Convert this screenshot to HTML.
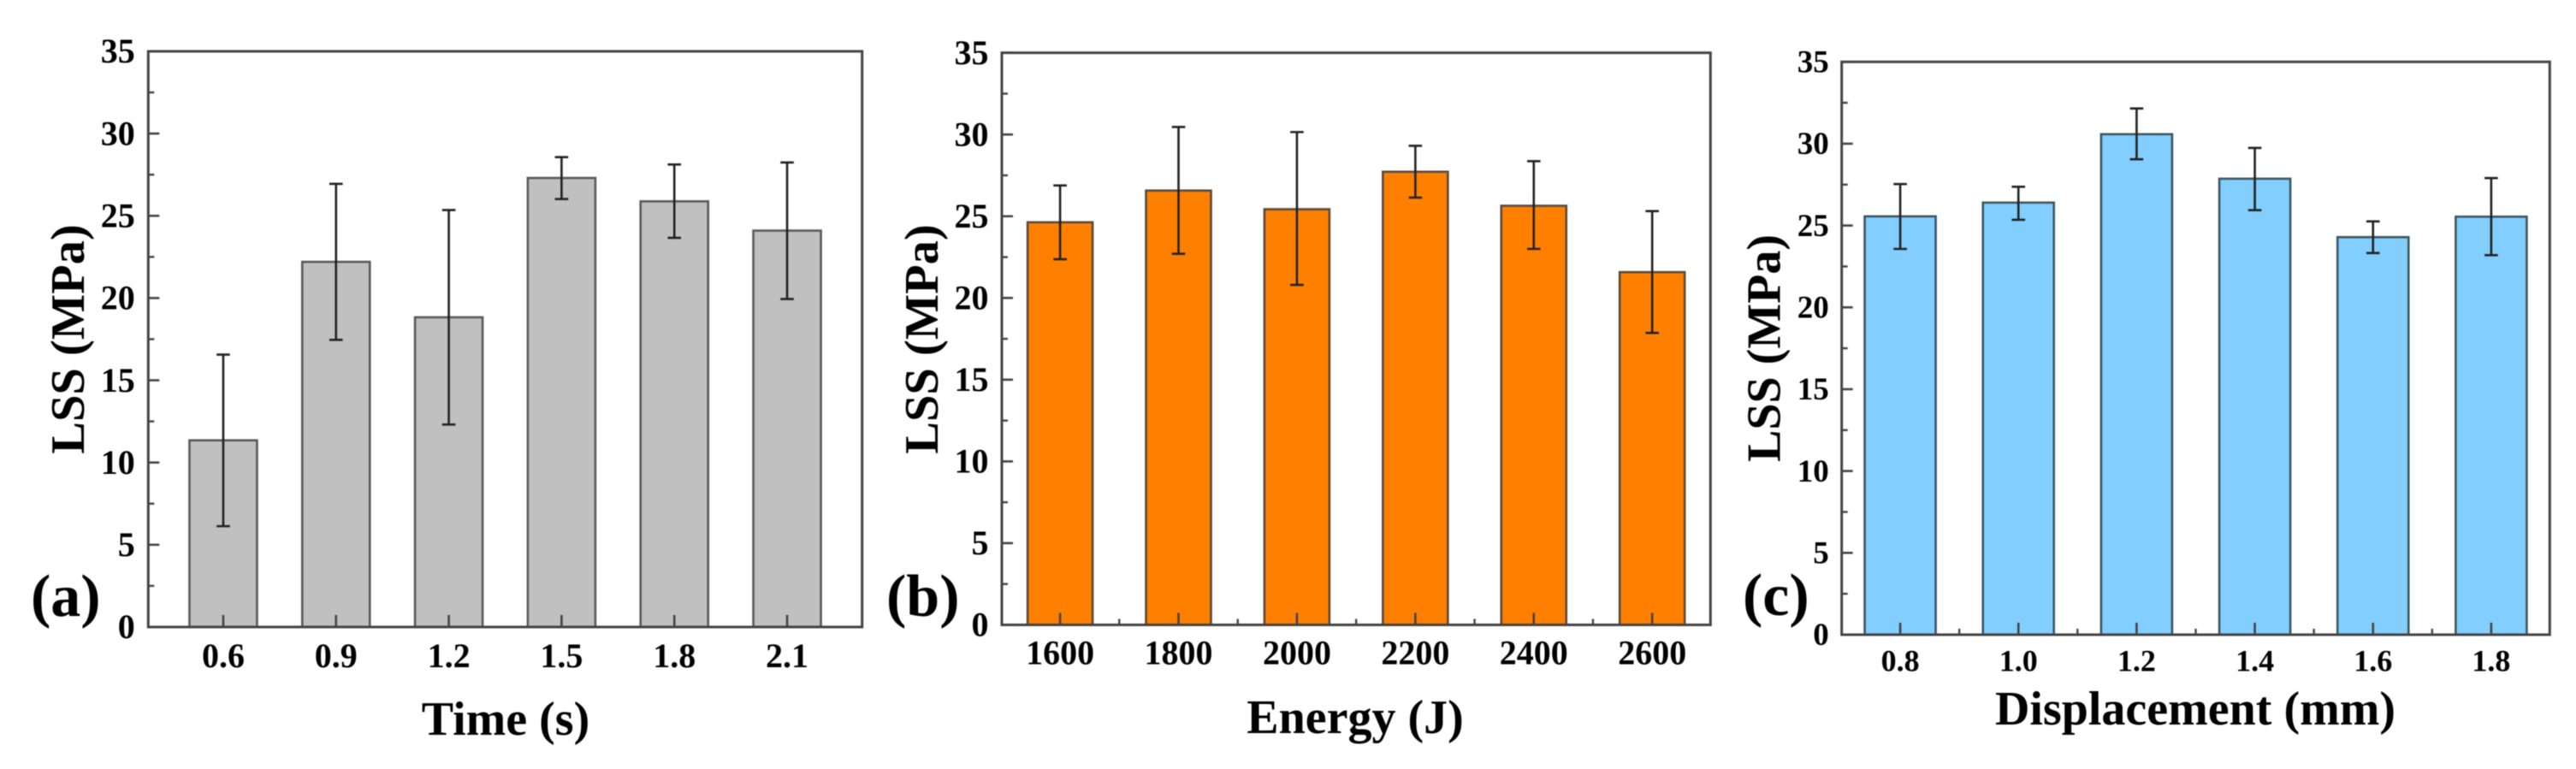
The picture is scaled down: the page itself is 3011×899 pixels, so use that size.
<!DOCTYPE html>
<html lang="en">
<head>
<meta charset="utf-8">
<title>LSS bar charts</title>
<style>
  html, body { margin: 0; padding: 0; background: #fff; }
  #figure { display: block; width: 3011px; height: 899px; filter: blur(0.55px); }
  text { font-family: "Liberation Serif", serif; font-weight: bold; fill: #000; }
</style>
</head>
<body>
<svg id="figure" xmlns="http://www.w3.org/2000/svg" width="3011" height="899" viewBox="0 0 3011 899">
  <rect x="0" y="0" width="3011" height="899" fill="#fff"/>

  <g id="panel-a"></g>
  <g id="panel-b"></g>
  <g id="panel-c"></g>

  <text font-size="56.5" text-anchor="middle" transform="translate(98 396.5) rotate(-90)">LSS (MPa)</text>
  <text font-size="56" text-anchor="middle" x="591" y="859">Time (s)</text>
  <text font-size="70" x="36" y="720">(a)</text>

  <text font-size="56.5" text-anchor="middle" transform="translate(1096 396.5) rotate(-90)">LSS (MPa)</text>
  <text font-size="56" text-anchor="middle" x="1584" y="857">Energy (J)</text>
  <text font-size="70" x="1036" y="720">(b)</text>

  <text font-size="56" text-anchor="middle" transform="translate(2080.7 407) rotate(-90)">LSS (MPa)</text>
  <text font-size="56" text-anchor="middle" x="2566" y="847">Displacement (mm)</text>
  <text font-size="70" x="2037" y="719">(c)</text>
</svg>

<script>
// ----- shared y axis -----
const yTickValues = [0, 5, 10, 15, 20, 25, 30, 35];
const yTickLabels = ['0', '5', '10', '15', '20', '25', '30', '35'];
const yMinorValues = [2.5, 7.5, 12.5, 17.5, 22.5, 27.5, 32.5];

// ----- panel (a): Time -----
const timeCategories = ['0.6', '0.9', '1.2', '1.5', '1.8', '2.1'];
const timeValues = [11.35, 22.2, 18.83, 27.3, 25.88, 24.1];
const timeErrorHigh = [16.56, 26.94, 25.35, 28.57, 28.12, 28.24];
const timeErrorLow = [6.13, 17.46, 12.31, 26.02, 23.66, 19.94];

// ----- panel (b): Energy -----
const energyCategories = ['1600', '1800', '2000', '2200', '2400', '2600'];
const energyValues = [24.63, 26.57, 25.43, 27.72, 25.64, 21.58];
const energyErrorHigh = [26.88, 30.46, 30.15, 29.31, 28.37, 25.31];
const energyErrorLow = [22.37, 22.7, 20.8, 26.14, 23.0, 17.86];

// ----- panel (c): Displacement -----
const displacementCategories = ['0.8', '1.0', '1.2', '1.4', '1.6', '1.8'];
const displacementValues = [25.56, 26.4, 30.58, 27.86, 24.29, 25.54];
const displacementErrorHigh = [27.53, 27.37, 32.15, 29.74, 25.25, 27.9];
const displacementErrorLow = [23.57, 25.35, 29.05, 25.94, 23.32, 23.19];

const SVG_NS = 'http://www.w3.org/2000/svg';

function make(parent, tag, attrs) {
  const el = document.createElementNS(SVG_NS, tag);
  for (const key in attrs) el.setAttribute(key, attrs[key]);
  parent.appendChild(el);
  return el;
}

function drawPanel(cfg) {
  const g = document.getElementById(cfg.id);
  const x = (i) => cfg.left + (i + cfg.pad) * (cfg.right - cfg.left) / (cfg.categories.length - 1 + 2 * cfg.pad);
  const y = (v) => cfg.bottom - v * (cfg.bottom - cfg.top) / 35;

  cfg.values.forEach((v, i) => {
    const bar = make(g, 'rect', {
      x: x(i) - cfg.barWidth / 2,
      y: y(v),
      width: cfg.barWidth,
      height: y(0) - y(v),
      fill: cfg.fill,
      stroke: cfg.barStroke,
      'stroke-width': 2.6
    });
    
    
  });

  cfg.values.forEach((v, i) => {
    const capHalf = 7.8;
    const err = make(g, 'path', {
      d: 'M' + (x(i) - capHalf) + ' ' + y(cfg.high[i]) + 'H' + (x(i) + capHalf) +
         'M' + x(i) + ' ' + y(cfg.high[i]) + 'V' + y(cfg.low[i]) +
         'M' + (x(i) - capHalf) + ' ' + y(cfg.low[i]) + 'H' + (x(i) + capHalf),
      fill: 'none',
      stroke: '#222',
      'stroke-width': 2.6
    });
    
    
  });

  const axisStroke = '#444';

  const frame = make(g, 'rect', {
    x: cfg.left,
    y: cfg.top,
    width: cfg.right - cfg.left,
    height: cfg.bottom - cfg.top,
    fill: 'none',
    stroke: axisStroke,
    'stroke-width': 3
  });
  
  

  yTickValues.forEach((v, i) => {
    const tick = make(g, 'line', {
      x1: cfg.left, x2: cfg.left + 13, y1: y(v), y2: y(v),
      stroke: axisStroke, 'stroke-width': 2.6
    });
    
    

    const label = make(g, 'text', {
      x: cfg.left - cfg.yLabelGap,
      y: y(v) + cfg.yFont * 0.33,
      'font-size': cfg.yFont,
      'text-anchor': 'end'
    });
    label.textContent = yTickLabels[i];
    
    
  });

  yMinorValues.forEach((v) => {
    const tick = make(g, 'line', {
      x1: cfg.left, x2: cfg.left + 7, y1: y(v), y2: y(v),
      stroke: axisStroke, 'stroke-width': 2.4
    });
    
    
  });

  cfg.categories.forEach((c, i) => {
    const tick = make(g, 'line', {
      x1: x(i), x2: x(i), y1: cfg.bottom, y2: cfg.bottom - 14,
      stroke: axisStroke, 'stroke-width': 2.6
    });
    
    

    if (cfg.xMinor && i < cfg.categories.length - 1) {
      const minor = make(g, 'line', {
        x1: x(i + 0.5), x2: x(i + 0.5), y1: cfg.bottom, y2: cfg.bottom - 7,
        stroke: axisStroke, 'stroke-width': 2.4
      });
      
      
    }

    const label = make(g, 'text', {
      x: x(i),
      y: cfg.xLabelBaseline,
      'font-size': cfg.xFont,
      'text-anchor': 'middle'
    });
    label.textContent = c;
    
    
  });
}

drawPanel({
  id: 'panel-a',
  categories: timeCategories, values: timeValues, high: timeErrorHigh, low: timeErrorLow,
  left: 173.3, right: 1007.7, top: 60, bottom: 733, pad: 0.665, barWidth: 79,
  fill: '#c0c0c0', barStroke: '#5a5a5a',
  yFont: 40, xFont: 40, yLabelGap: 15.5, xLabelBaseline: 780, xMinor: false
});

drawPanel({
  id: 'panel-b',
  categories: energyCategories, values: energyValues, high: energyErrorHigh, low: energyErrorLow,
  left: 1171, right: 1999.3, top: 61.7, bottom: 730.5, pad: 0.492, barWidth: 76,
  fill: '#ff8000', barStroke: '#5a4a3a',
  yFont: 40, xFont: 40, yLabelGap: 15.5, xLabelBaseline: 776.7, xMinor: true
});

drawPanel({
  id: 'panel-c',
  categories: displacementCategories, values: displacementValues, high: displacementErrorHigh, low: displacementErrorLow,
  left: 2152.7, right: 2980.3, top: 72.3, bottom: 742, pad: 0.495, barWidth: 83,
  fill: '#82ceff', barStroke: '#3f5560',
  yFont: 37, xFont: 36, yLabelGap: 15, xLabelBaseline: 784.7, xMinor: true
});
</script>
</body>
</html>
